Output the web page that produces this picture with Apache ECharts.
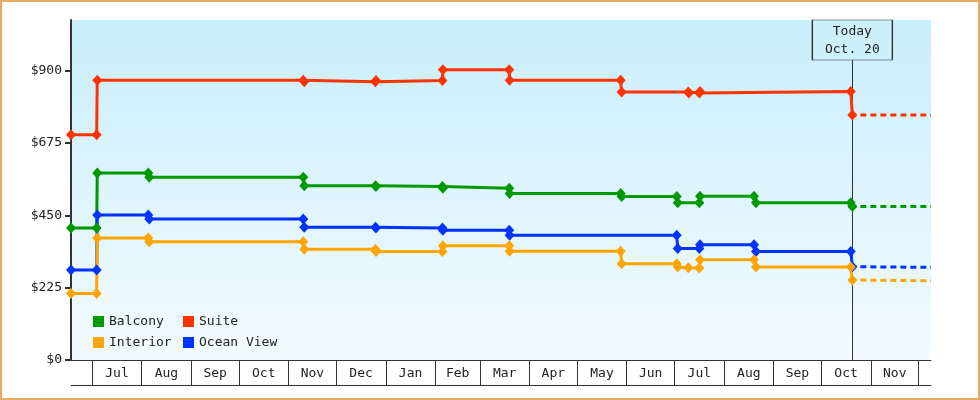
<!DOCTYPE html>
<html>
<head>
<meta charset="utf-8">
<script src="https://cdn.jsdelivr.net/npm/echarts@6.0.0/dist/echarts.min.js"></script>
<style>
  html, body { margin: 0; padding: 0; background: #fff; }
  #wrap { position: relative; width: 980px; height: 400px; }
  #chart { width: 980px; height: 400px; }
  #frame { position: absolute; left: 0; top: 0; width: 980px; height: 400px; box-sizing: border-box; border: 2px solid #e9a962; pointer-events: none; }
</style>
</head>
<body>
<div id="wrap"><div id="chart"></div><div id="frame"></div></div>
<script>
// ---- data (date, price) ----
const AXIS_START = '2022-06-17 16';
const AXIS_END = '2023-12-08 17';
const TODAY = '2023-10-20 10';
const TODAY_LABEL = 'Today\nOct. 20';

const MONTH_NAMES = ['Jan','Feb','Mar','Apr','May','Jun','Jul','Aug','Sep','Oct','Nov','Dec'];
const MONTH_STARTS = ['2022-07-01','2022-08-01','2022-09-01','2022-10-01','2022-11-01','2022-12-01',
  '2023-01-01','2023-02-01','2023-03-01','2023-04-01','2023-05-01','2023-06-01','2023-07-01',
  '2023-08-01','2023-09-01','2023-10-01','2023-11-01','2023-12-01'];
const Y_TICKS = [0, 225, 450, 675, 900];

const SUITE = [
  ['2022-06-17 16', 700], ['2022-07-03 18', 700], ['2022-07-04 03', 870],
  ['2022-11-10 06', 870], ['2022-11-10 21', 865], ['2022-12-25 12', 865], ['2022-12-25 20', 869],
  ['2023-02-05 12', 869], ['2023-02-05 18', 902], ['2023-03-19 08', 902], ['2023-03-19 14', 870],
  ['2023-05-28 05', 870], ['2023-05-28 19', 833], ['2023-07-09 14', 833], ['2023-07-09 22', 830],
  ['2023-07-16 12', 830], ['2023-07-16 22', 835], ['2023-10-19 10', 835], ['2023-10-20 10', 762]
];
const BALCONY = [
  ['2022-06-17 16', 410], ['2022-07-03 18', 410], ['2022-07-04 03', 581],
  ['2022-08-05 02', 581], ['2022-08-05 17', 568], ['2022-11-10 06', 568], ['2022-11-10 21', 542],
  ['2022-12-25 12', 542], ['2022-12-25 20', 539], ['2023-02-05 12', 539], ['2023-02-05 18', 534],
  ['2023-03-19 08', 534], ['2023-03-19 14', 518], ['2023-05-28 05', 518], ['2023-05-28 19', 508],
  ['2023-07-02 08', 508], ['2023-07-02 23', 489], ['2023-07-16 12', 489], ['2023-07-16 22', 509],
  ['2023-08-19 19', 509], ['2023-08-21 00', 489], ['2023-10-19 10', 489], ['2023-10-20 10', 477]
];
const OCEAN_VIEW = [
  ['2022-06-17 16', 280], ['2022-07-03 18', 280], ['2022-07-04 03', 451],
  ['2022-08-05 02', 451], ['2022-08-05 17', 438], ['2022-11-10 06', 438], ['2022-11-10 21', 413],
  ['2022-12-25 12', 413], ['2022-12-25 20', 410], ['2023-02-05 12', 410], ['2023-02-05 18', 403],
  ['2023-03-19 08', 403], ['2023-03-19 14', 388], ['2023-07-02 08', 388], ['2023-07-02 23', 347],
  ['2023-07-16 12', 347], ['2023-07-16 22', 358], ['2023-08-19 19', 358], ['2023-08-21 00', 337],
  ['2023-10-19 10', 337], ['2023-10-20 10', 290]
];
const INTERIOR = [
  ['2022-06-17 16', 207], ['2022-07-03 18', 207], ['2022-07-04 03', 379],
  ['2022-08-05 02', 379], ['2022-08-05 17', 368], ['2022-11-10 06', 368], ['2022-11-10 21', 344],
  ['2022-12-25 12', 344], ['2022-12-25 20', 337], ['2023-02-05 12', 337], ['2023-02-05 18', 355],
  ['2023-03-19 08', 355], ['2023-03-19 14', 338], ['2023-05-28 05', 338], ['2023-05-28 19', 299],
  ['2023-07-02 08', 299], ['2023-07-02 23', 289], ['2023-07-09 14', 287], ['2023-07-16 12', 286],
  ['2023-07-16 22', 312], ['2023-08-19 19', 312], ['2023-08-21 00', 289], ['2023-10-19 10', 289],
  ['2023-10-20 10', 249]
];
// dotted forecast after today
const SUITE_AHEAD = [['2023-10-20 10', 762], ['2023-12-08 17', 762]];
const BALCONY_AHEAD = [['2023-10-20 10', 477], ['2023-12-08 17', 477]];
const OCEAN_VIEW_AHEAD = [['2023-10-20 10', 290], ['2023-12-08 17', 288]];
const INTERIOR_AHEAD = [['2023-10-20 10', 249], ['2023-12-08 17', 246]];

// ---- helpers ----
function ts(s) {
  const parts = s.split(' ');
  const d = parts[0].split('-').map(Number);
  const h = parts[1] ? Number(parts[1]) : 0;
  return Date.UTC(d[0], d[1] - 1, d[2], h);
}
function pts(arr) { return arr.map(p => [ts(p[0]), p[1]]); }

const monthStartTs = MONTH_STARTS.map(ts);
const monthMidTs = [];
for (let i = 0; i < monthStartTs.length - 1; i++) monthMidTs.push((monthStartTs[i] + monthStartTs[i + 1]) / 2);

const FONT = 'DejaVu Sans Mono';
const FS = 13;
const TXT = '#222';
const COLORS = { Balcony: '#009900', Suite: '#ff3300', Interior: '#ffa500', 'Ocean View': '#0033ff' };

function mainSeries(name, data) {
  return {
    name: name, type: 'line', data: pts(data), color: COLORS[name],
    symbol: 'diamond', symbolSize: [10, 11], showSymbol: true,
    lineStyle: { width: 3, color: COLORS[name] },
    itemStyle: { color: COLORS[name] },
    z: 3
  };
}
function aheadSeries(name, data) {
  return {
    name: name + ' ahead', type: 'line', data: pts(data), symbol: 'none',
    lineStyle: { width: 3, color: COLORS[name], type: [6, 4], dashOffset: 2 },
    z: 2
  };
}

const chart = echarts.init(document.getElementById('chart'), null, { renderer: 'canvas' });

const xMin = ts(AXIS_START), xMax = ts(AXIS_END), tToday = ts(TODAY);

const interiorAhead = aheadSeries('Interior', INTERIOR_AHEAD);
interiorAhead.markLine = {
  silent: true, z: 1, symbol: ['none', 'none'], animation: false,
  label: { show: false },
  lineStyle: { color: '#333', width: 1, type: 'solid' },
  data: [{ xAxis: tToday }]
};
interiorAhead.markPoint = {
  silent: true, z: 6, animation: false,
  symbol: 'rect', symbolSize: [80, 40], symbolOffset: [0, '50%'],
  itemStyle: { color: '#ccf0fc', borderColor: '#333', borderWidth: 1 },
  label: { show: true, position: 'inside', offset: [0, 1], formatter: TODAY_LABEL, color: TXT, fontFamily: FONT, fontSize: FS, lineHeight: 18 },
  data: [{ coord: [tToday, 1057] }]
};

const legendText = { fontFamily: FONT, fontSize: FS, color: TXT, lineHeight: 12 };

const option = {
  animation: false,
  backgroundColor: '#fff',
  grid: {
    left: 71, right: 49, top: 20, bottom: 40, show: true, borderWidth: 0,
    backgroundColor: new echarts.graphic.LinearGradient(0, 0, 0, 1, [
      { offset: 0, color: '#c9eefc' }, { offset: 1, color: '#f3fbff' }
    ])
  },
  legend: [
    {
      left: 88, top: 310, orient: 'vertical', itemWidth: 11, itemHeight: 11, itemGap: 8,
      icon: 'rect', data: ['Balcony', 'Interior'], textStyle: legendText
    },
    {
      left: 178, top: 310, orient: 'vertical', itemWidth: 11, itemHeight: 11, itemGap: 8,
      icon: 'rect', data: ['Suite', 'Ocean View'], textStyle: legendText
    }
  ],
  xAxis: [
    {
      type: 'value', min: xMin, max: xMax, position: 'bottom',
      axisLine: { show: true, onZero: false, lineStyle: { color: '#333', width: 1 } },
      axisTick: { show: true, customValues: monthStartTs, length: 25, inside: false, lineStyle: { color: '#333', width: 1 } },
      axisLabel: {
        show: true, customValues: monthMidTs, margin: 7, color: TXT, fontFamily: FONT, fontSize: FS,
        formatter: function (v) { return MONTH_NAMES[new Date(v).getUTCMonth()]; }
      },
      splitLine: { show: false }
    },
    {
      type: 'value', min: xMin, max: xMax, position: 'bottom', offset: 25,
      axisLine: { show: true, onZero: false, lineStyle: { color: '#333', width: 1 } },
      axisTick: { show: false }, axisLabel: { show: false }, splitLine: { show: false }
    }
  ],
  yAxis: {
    type: 'value', min: 0, max: 1057,
    axisLine: { show: true, onZero: false, lineStyle: { color: '#333', width: 2 } },
    axisTick: { show: true, customValues: Y_TICKS, length: 6, lineStyle: { color: '#333', width: 2 } },
    axisLabel: { customValues: Y_TICKS, margin: 9, color: TXT, fontFamily: FONT, fontSize: FS, formatter: v => '$' + v },
    splitLine: { show: false }
  },
  series: [
    aheadSeries('Suite', SUITE_AHEAD),
    aheadSeries('Balcony', BALCONY_AHEAD),
    aheadSeries('Ocean View', OCEAN_VIEW_AHEAD),
    interiorAhead,
    mainSeries('Suite', SUITE),
    mainSeries('Balcony', BALCONY),
    mainSeries('Ocean View', OCEAN_VIEW),
    mainSeries('Interior', INTERIOR)
  ]
};
chart.setOption(option);
</script>
</body>
</html>
